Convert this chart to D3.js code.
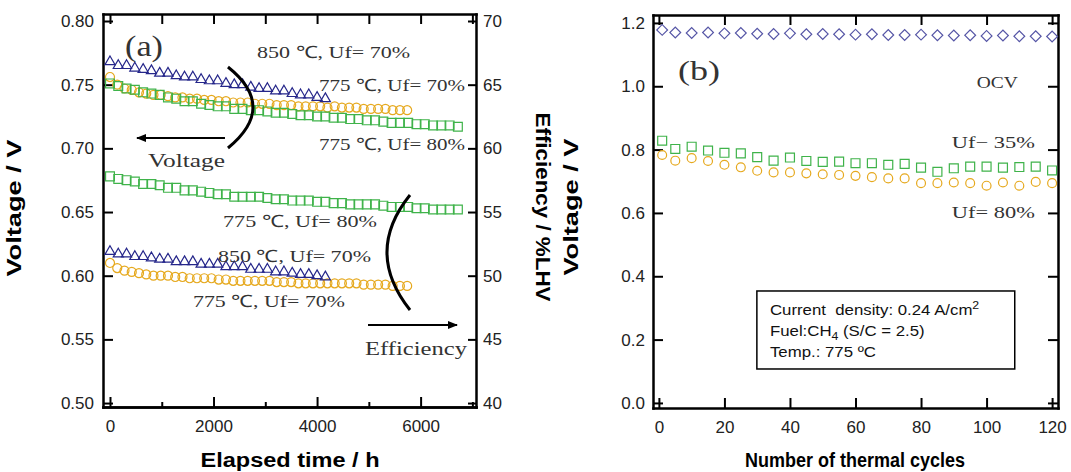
<!DOCTYPE html>
<html>
<head>
<meta charset="utf-8">
<script src="https://cdn.jsdelivr.net/npm/d3@7"></script>
<style>
body { margin: 0; background: #fff; }
svg { display: block; }
.tick text { font-family: "Liberation Sans", Arial, sans-serif; font-size: 17px; fill: #222; }
.domain { stroke: #000; stroke-width: 2.5px; stroke-linecap: square; }
.tick line { stroke: #000; stroke-width: 2px; }
.title { font-family: "Liberation Sans", Arial, sans-serif; font-weight: bold; font-size: 20px; fill: #000; }
.note { font-family: "Liberation Serif", "Times New Roman", serif; font-size: 17px; fill: #333; }
.legend { font-family: "Liberation Sans", Arial, sans-serif; font-size: 15px; fill: #111; white-space: pre; }
</style>
</head>
<body>
<div id="chart"></div>
<script>
// ---- (a) durability test, elapsed time in h ----
// 850 C, Uf = 70% (triangles)
var time850 = [0,160,320,480,640,800,960,1120,1280,1440,1600,1760,1920,2080,2240,2400,2560,2720,2880,3040,3200,3360,3520,3680,3840,4000,4160];
var volt850 = [0.768,0.765,0.765,0.763,0.762,0.761,0.759,0.759,0.757,0.756,0.756,0.754,0.753,0.753,0.751,0.750,0.750,0.748,0.747,0.747,0.745,0.745,0.743,0.742,0.742,0.740,0.739];
var eff850 = [51.9,51.7,51.7,51.5,51.5,51.4,51.3,51.3,51.1,51.1,51.1,50.9,50.9,50.9,50.7,50.7,50.7,50.5,50.5,50.5,50.3,50.3,50.2,50.1,50.1,50.0,49.9];

// 775 C, Uf = 70% (circles)
var time775a = [0,140,280,420,560,700,840,980,1120,1260,1400,1540,1680,1820,1960,2100,2240,2380,2520,2660,2800,2940,3080,3220,3360,3500,3640,3780,3920,4060,4200,4340,4480,4620,4760,4900,5040,5180,5320,5460,5600,5740];
var volt775a = [0.756,0.750,0.747,0.746,0.744,0.743,0.742,0.742,0.741,0.740,0.740,0.739,0.739,0.738,0.738,0.737,0.737,0.736,0.736,0.736,0.735,0.735,0.735,0.734,0.734,0.734,0.733,0.733,0.733,0.733,0.732,0.733,0.732,0.732,0.732,0.731,0.731,0.731,0.731,0.730,0.730,0.730];
var eff775a = [51.0,50.6,50.4,50.3,50.2,50.1,50.0,50.0,50.0,49.9,49.9,49.8,49.8,49.8,49.8,49.7,49.7,49.6,49.6,49.6,49.6,49.6,49.6,49.5,49.5,49.5,49.4,49.4,49.4,49.4,49.4,49.4,49.4,49.4,49.4,49.3,49.3,49.3,49.3,49.2,49.2,49.2];

// 775 C, Uf = 80% (squares)
var time775b = [0,160,320,480,640,800,960,1120,1280,1440,1600,1760,1920,2080,2240,2400,2560,2720,2880,3040,3200,3360,3520,3680,3840,4000,4160,4320,4480,4640,4800,4960,5120,5280,5440,5600,5760,5920,6080,6240,6400,6560,6720];
var volt775b = [0.751,0.749,0.747,0.746,0.744,0.743,0.742,0.740,0.739,0.737,0.737,0.735,0.734,0.733,0.733,0.731,0.731,0.730,0.730,0.729,0.728,0.728,0.727,0.726,0.726,0.725,0.725,0.724,0.724,0.723,0.723,0.722,0.722,0.721,0.720,0.720,0.720,0.719,0.719,0.718,0.718,0.718,0.717];
var eff775b = [57.8,57.6,57.5,57.4,57.2,57.2,57.1,56.9,56.9,56.7,56.7,56.6,56.5,56.4,56.4,56.2,56.2,56.2,56.2,56.1,56.0,56.0,55.9,55.9,55.9,55.8,55.8,55.7,55.7,55.6,55.6,55.6,55.6,55.5,55.4,55.4,55.4,55.3,55.3,55.2,55.2,55.2,55.2];

// ---- (b) thermal cycling ----
var cycles = [1,5,10,15,20,25,30,35,40,45,50,55,60,65,70,75,80,85,90,95,100,105,110,115,120];
var ocv = [1.178,1.170,1.168,1.170,1.167,1.168,1.166,1.165,1.167,1.164,1.165,1.164,1.163,1.164,1.162,1.162,1.163,1.161,1.160,1.161,1.159,1.160,1.158,1.158,1.157];
var voltUf35 = [0.828,0.802,0.809,0.797,0.790,0.788,0.776,0.765,0.775,0.764,0.761,0.762,0.757,0.757,0.752,0.755,0.743,0.730,0.741,0.746,0.746,0.743,0.745,0.746,0.734];
var voltUf80 = [0.783,0.765,0.773,0.764,0.752,0.744,0.733,0.728,0.728,0.725,0.722,0.720,0.717,0.713,0.709,0.709,0.694,0.694,0.696,0.694,0.686,0.696,0.686,0.698,0.694];

// tick values
var voltTicksA = [0.50,0.55,0.60,0.65,0.70,0.75,0.80];
var effTicks = [40,45,50,55,60,65,70];
var timeTicks = [0,2000,4000,6000];
var timeMinor = [1000,3000,5000,7000];
var timeTop = [0,1000,2000,3000,4000,5000,6000,7000];
var voltTicksB = [0,0.2,0.4,0.6,0.8,1.0,1.2];
var cycleTicks = [0,20,40,60,80,100,120];

var blue = '#25268a', orange = '#e6a91e', green = '#3fb34a', purple = '#5656a6';

var svg = d3.select('#chart').append('svg').attr('width', 1071).attr('height', 472);

svg.append('defs').append('marker')
    .attr('id', 'head')
    .attr('viewBox', '0 0 10 10')
    .attr('refX', 9).attr('refY', 5)
    .attr('markerWidth', 5).attr('markerHeight', 5)
    .attr('orient', 'auto')
    .append('path').attr('d', 'M0,1 L10,5 L0,9 Z').attr('fill', '#000');

// draws one series of open markers
function drawSeries(g, xs, ys, xs_, ys_, shape, size, color, rot) {
    var sym = d3.symbol().type(shape).size(size);
    g.selectAll(null)
	.data(d3.zip(xs, ys))
	.enter()
	.append('path')
	.attr('d', sym)
	.attr('transform', function(d) {
	    return 'translate(' + xs_(d[0]) + ',' + ys_(d[1]) + ')' + (rot ? ' rotate(45)' : '');
	})
	.attr('fill', 'none')
	.attr('stroke', color)
	.attr('stroke-width', 1.2);
}

function note(g, txt, x, y, w, size) {
    var t = g.append('text').attr('class', 'note').attr('x', x).attr('y', y).text(txt);
    if (size) t.style('font-size', size + 'px');
    if (w) t.attr('textLength', w).attr('lengthAdjust', 'spacingAndGlyphs');
    return t;
}

function title(txt, x, y, w, angle) {
    svg.append('text').attr('class', 'title')
	.attr('text-anchor', 'middle')
	.attr('transform', 'translate(' + x + ',' + y + ') rotate(' + angle + ')')
	.attr('textLength', w).attr('lengthAdjust', 'spacingAndGlyphs')
	.text(txt);
}

// ================= panel (a) =================
var xA = d3.scaleLinear().domain([-135, 7070]).range([103, 476]);
var yV = d3.scaleLinear().domain([0.4969, 0.8055]).range([407, 14]);
var yE = d3.scaleLinear().domain([39.69, 70.55]).range([407, 14]);

var gA = svg.append('g');

gA.append('g').attr('transform', 'translate(0,407)')
    .call(d3.axisBottom(xA).tickValues(timeTicks).tickSize(-10).tickSizeOuter(0).tickPadding(13).tickFormat(d3.format('d')));
gA.append('g').attr('transform', 'translate(0,407)')
    .call(d3.axisBottom(xA).tickValues(timeMinor).tickSize(-5).tickSizeOuter(0).tickFormat(''));
gA.append('g').attr('transform', 'translate(0,14)')
    .call(d3.axisTop(xA).tickValues(timeTop).tickSize(-10).tickSizeOuter(0).tickFormat(''));
gA.append('g').attr('transform', 'translate(103,0)')
    .call(d3.axisLeft(yV).tickValues(voltTicksA).tickSize(-10).tickSizeOuter(0).tickPadding(9).tickFormat(d3.format('.2f')));
gA.append('g').attr('transform', 'translate(476,0)')
    .call(d3.axisRight(yE).tickValues(effTicks).tickSize(-8).tickSizeOuter(0).tickPadding(7).tickFormat(d3.format('d')));

// voltage
drawSeries(gA, time775a, volt775a, xA, yV, d3.symbolCircle, 64, orange);
drawSeries(gA, time775b, volt775b, xA, yV, d3.symbolSquare, 78, green);
drawSeries(gA, time850, volt850, xA, yV, d3.symbolTriangle, 44, blue);
// efficiency
drawSeries(gA, time775a, eff775a, xA, yE, d3.symbolCircle, 64, orange);
drawSeries(gA, time775b, eff775b, xA, yE, d3.symbolSquare, 78, green);
drawSeries(gA, time850, eff850, xA, yE, d3.symbolTriangle, 44, blue);

// annotations (a)
note(gA, '(a)', xA(290), yV(0.7725), 38, 30);
note(gA, '850 \u2103, Uf= 70%', xA(2840), yV(0.7709), 153);
note(gA, '775 \u2103, Uf= 70%', xA(4037), yV(0.7450), 146);
note(gA, '775 \u2103, Uf= 80%', xA(4037), yV(0.6987), 146);
note(gA, 'Voltage', xA(734), yV(0.6854), 77, 19);
note(gA, '775 \u2103, Uf= 80%', xA(2183), yV(0.6382), 154);
note(gA, '850 \u2103, Uf= 70%', xA(2086), yV(0.6108), 153);
note(gA, '775 \u2103, Uf= 70%', xA(1603), yV(0.5754), 152);
note(gA, 'Efficiency', xA(4926), yV(0.5377), 102, 19);

var p1 = d3.path();
p1.moveTo(xA(2279), yV(0.7639));
p1.quadraticCurveTo(xA(3245), yV(0.7325), xA(2279), yV(0.7003));
gA.append('path').attr('d', p1.toString()).attr('fill', 'none').attr('stroke', '#000').attr('stroke-width', 3);

var p2 = d3.path();
p2.moveTo(xA(5795), yV(0.6634));
p2.quadraticCurveTo(xA(4906), yV(0.6186), xA(5795), yV(0.5731));
gA.append('path').attr('d', p2.toString()).attr('fill', 'none').attr('stroke', '#000').attr('stroke-width', 3);

gA.append('line')
    .attr('x1', xA(2221)).attr('y1', yV(0.7081)).attr('x2', xA(522)).attr('y2', yV(0.7081))
    .attr('stroke', '#000').attr('stroke-width', 2).attr('marker-end', 'url(#head)');
gA.append('line')
    .attr('x1', xA(4984)).attr('y1', yV(0.5613)).attr('x2', xA(6703)).attr('y2', yV(0.5613))
    .attr('stroke', '#000').attr('stroke-width', 2).attr('marker-end', 'url(#head)');

title('Voltage / V', 21, 208, 137, -90);
title('Efficiency / %LHV', 536, 207, 189, 90);
title('Elapsed time / h', 290, 467, 179, 0);

// ================= panel (b) =================
var xB = d3.scaleLinear().domain([-1.8, 121.8]).range([653, 1058]);
var yB = d3.scaleLinear().domain([-0.016, 1.225]).range([408, 15]);

var gB = svg.append('g');

gB.append('g').attr('transform', 'translate(0,408)')
    .call(d3.axisBottom(xB).tickValues(cycleTicks).tickSize(-10).tickSizeOuter(0).tickPadding(13).tickFormat(d3.format('d')));
gB.append('g').attr('transform', 'translate(0,15)')
    .call(d3.axisTop(xB).tickValues(cycleTicks).tickSize(-10).tickSizeOuter(0).tickFormat(''));
gB.append('g').attr('transform', 'translate(653,0)')
    .call(d3.axisLeft(yB).tickValues(voltTicksB).tickSize(-10).tickSizeOuter(0).tickPadding(8).tickFormat(d3.format('.1f')));
gB.append('g').attr('transform', 'translate(1058,0)')
    .call(d3.axisRight(yB).tickValues(voltTicksB).tickSize(-10).tickSizeOuter(0).tickFormat(''));

drawSeries(gB, cycles, ocv, xB, yB, d3.symbolSquare, 58, purple, true);
drawSeries(gB, cycles, voltUf35, xB, yB, d3.symbolSquare, 80, green);
drawSeries(gB, cycles, voltUf80, xB, yB, d3.symbolCircle, 62, orange);

note(gB, '(b)', xB(5.8), yB(1.0198), 42, 28);
note(gB, 'OCV', xB(97.0), yB(0.9945), 41, 16);
note(gB, 'Uf\u2212 35%', xB(89.4), yB(0.805), 83);
note(gB, 'Uf= 80%', xB(89.4), yB(0.584), 83);

// condition box
gB.append('rect')
    .attr('x', xB(29.9)).attr('y', yB(0.3535))
    .attr('width', xB(108.6) - xB(29.9)).attr('height', yB(0.1072) - yB(0.3535))
    .attr('fill', '#fff').attr('stroke', '#000').attr('stroke-width', 1.5);

// box text is drawn a bit wider, like the original
var gL = gB.append('g').attr('transform', 'translate(' + xB(33.9) + ',0) scale(1.12,1)');
var l1 = gL.append('text').attr('class', 'legend').attr('x', 0).attr('y', 315).text('Current\u00a0 density: 0.24 A/cm');
l1.append('tspan').attr('dy', -6).style('font-size', '11px').text('2');
var l2 = gL.append('text').attr('class', 'legend').attr('x', 0).attr('y', 336).text('Fuel:CH');
l2.append('tspan').attr('dy', 4).style('font-size', '11px').text('4');
l2.append('tspan').attr('dy', -4).text(' (S/C = 2.5)');
gL.append('text').attr('class', 'legend').attr('x', 0).attr('y', 357).text('Temp.: 775 \u00baC');

title('Voltage / V', 578, 207, 137, -90);
title('Number of thermal cycles', 855, 467, 220, 0);
</script>
</body>
</html>
